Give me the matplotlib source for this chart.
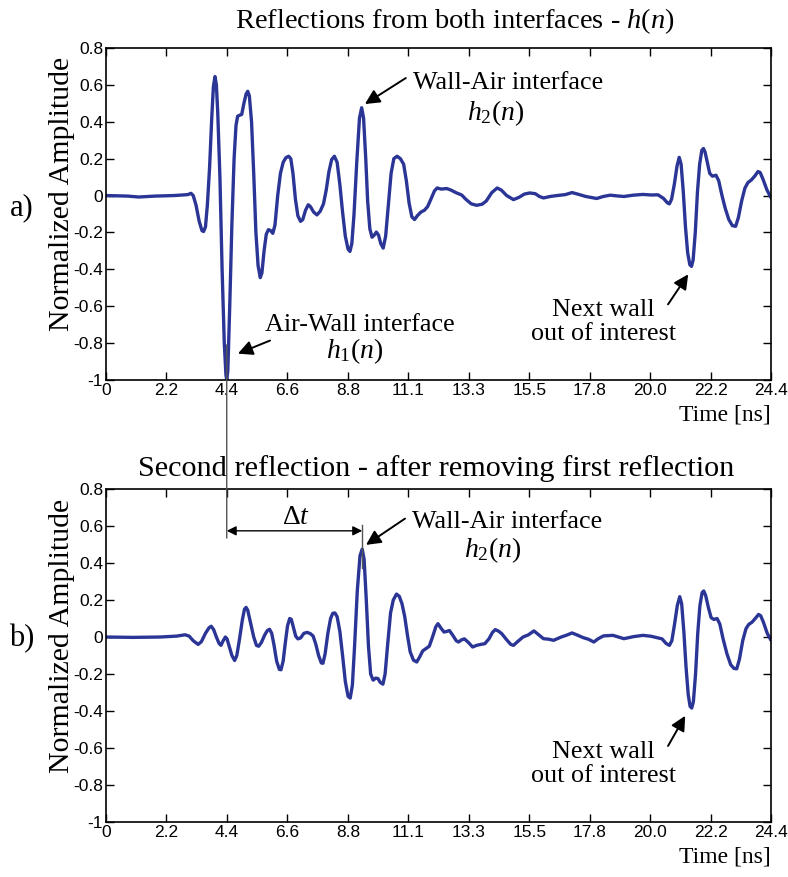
import numpy as np
import matplotlib
matplotlib.use('Agg')
import matplotlib.pyplot as plt
from matplotlib.patches import ConnectionPatch

plt.rcParams['mathtext.fontset'] = 'custom'
plt.rcParams['mathtext.rm'] = 'Liberation Serif'
plt.rcParams['mathtext.it'] = 'Liberation Serif:italic'

# time axis ticks (ns)
tick_labels = ['0', '2.2', '4.4', '6.6', '8.8', '11.1', '13.3', '15.5', '17.8', '20.0', '22.2', '24.4']
y_ticks = [-1, -0.8, -0.6, -0.4, -0.2, 0, 0.2, 0.4, 0.6, 0.8]
y_tick_labels = ['-1', '-0.8', '-0.6', '-0.4', '-0.2', '0', '0.2', '0.4', '0.6', '0.8']

# h(n): both reflections, (time ns, amplitude)
wave_a = [
    (0.0, 0.0), (0.8, -0.003), (1.2, -0.008), (1.8, -0.003), (2.5, 0.0), (3.0, 0.005),
    (3.12, 0.012), (3.2, 0.0), (3.3, -0.05), (3.42, -0.14), (3.52, -0.19), (3.58, -0.195),
    (3.65, -0.17), (3.72, -0.05), (3.8, 0.15), (3.88, 0.42), (3.94, 0.59), (4.0, 0.645),
    (4.05, 0.6), (4.1, 0.45), (4.18, 0.1), (4.26, -0.4), (4.34, -0.8), (4.4, -0.97),
    (4.43, -1.0), (4.47, -0.95), (4.54, -0.6), (4.62, -0.15), (4.7, 0.2), (4.77, 0.38),
    (4.83, 0.43), (4.9, 0.435), (4.98, 0.44), (5.06, 0.5), (5.14, 0.55), (5.2, 0.565),
    (5.26, 0.54), (5.34, 0.4), (5.42, 0.12), (5.5, -0.2), (5.58, -0.38), (5.66, -0.445),
    (5.72, -0.42), (5.8, -0.3), (5.88, -0.21), (5.96, -0.185), (6.04, -0.19), (6.12, -0.205),
    (6.2, -0.16), (6.3, 0.0), (6.4, 0.12), (6.5, 0.18), (6.6, 0.205), (6.7, 0.213),
    (6.78, 0.2), (6.86, 0.12), (6.95, -0.02), (7.04, -0.11), (7.14, -0.14), (7.22, -0.13),
    (7.32, -0.08), (7.42, -0.05), (7.5, -0.06), (7.62, -0.09), (7.74, -0.105), (7.86, -0.085),
    (7.98, -0.045), (8.08, 0.03), (8.18, 0.13), (8.28, 0.195), (8.38, 0.213), (8.48, 0.18),
    (8.58, 0.06), (8.68, -0.09), (8.78, -0.22), (8.88, -0.29), (8.95, -0.303), (9.02, -0.26),
    (9.1, -0.1), (9.2, 0.18), (9.3, 0.42), (9.38, 0.476), (9.45, 0.42), (9.53, 0.2),
    (9.6, -0.03), (9.68, -0.18), (9.76, -0.226), (9.84, -0.215), (9.92, -0.198), (10.0, -0.215),
    (10.08, -0.26), (10.17, -0.285), (10.26, -0.22), (10.36, -0.05), (10.46, 0.12), (10.56, 0.2),
    (10.68, 0.213), (10.8, 0.2), (10.92, 0.17), (11.02, 0.08), (11.12, -0.04), (11.22, -0.115),
    (11.32, -0.13), (11.42, -0.11), (11.55, -0.09), (11.68, -0.08), (11.8, -0.06), (11.92, -0.02),
    (12.05, 0.025), (12.15, 0.041), (12.3, 0.035), (12.5, 0.038), (12.65, 0.03), (12.85, 0.015),
    (13.05, 0.003), (13.2, -0.02), (13.4, -0.045), (13.6, -0.053), (13.8, -0.047), (13.95, -0.03),
    (14.15, 0.015), (14.35, 0.041), (14.5, 0.03), (14.7, 0.0), (14.95, -0.022), (15.15, -0.01),
    (15.35, 0.008), (15.55, 0.014), (15.75, 0.01), (15.9, -0.005), (16.05, -0.013), (16.3, -0.005),
    (16.55, 0.0), (16.85, 0.005), (17.1, 0.016), (17.3, 0.008), (17.6, -0.005), (18.0, -0.016),
    (18.25, -0.005), (18.5, 0.002), (18.75, -0.002), (19.0, -0.005), (19.35, 0.002), (19.7, 0.006),
    (20.0, 0.003), (20.25, 0.004), (20.45, -0.015), (20.6, -0.04), (20.67, -0.045), (20.75, -0.02),
    (20.85, 0.06), (20.95, 0.16), (21.03, 0.207), (21.1, 0.17), (21.18, 0.02), (21.26, -0.17),
    (21.34, -0.31), (21.42, -0.375), (21.48, -0.384), (21.54, -0.35), (21.62, -0.2), (21.7, 0.02),
    (21.78, 0.17), (21.86, 0.245), (21.92, 0.255), (21.98, 0.235), (22.06, 0.18), (22.15, 0.12),
    (22.25, 0.105), (22.38, 0.11), (22.48, 0.08), (22.6, 0.0), (22.72, -0.07), (22.85, -0.13),
    (22.98, -0.163), (23.1, -0.167), (23.2, -0.12), (23.32, -0.03), (23.44, 0.04), (23.55, 0.07),
    (23.68, 0.085), (23.8, 0.105), (23.92, 0.13), (24.0, 0.125), (24.1, 0.09), (24.25, 0.03),
    (24.4, -0.012),
]

# second reflection only (after removing the first one)
wave_b = [
    (0.0, 0.0), (1.0, -0.002), (2.0, 0.0), (2.6, 0.005), (2.9, 0.012), (3.05, 0.005),
    (3.2, -0.02), (3.38, -0.04), (3.5, -0.025), (3.65, 0.02), (3.78, 0.05), (3.86, 0.058),
    (3.95, 0.04), (4.05, 0.0), (4.15, -0.035), (4.22, -0.045), (4.3, -0.02), (4.38, 0.0),
    (4.44, -0.01), (4.52, -0.05), (4.62, -0.1), (4.72, -0.127), (4.8, -0.1), (4.9, -0.01),
    (5.0, 0.09), (5.08, 0.15), (5.14, 0.16), (5.2, 0.145), (5.3, 0.08), (5.42, 0.0),
    (5.52, -0.045), (5.6, -0.05), (5.7, -0.03), (5.82, 0.01), (5.92, 0.035), (6.0, 0.042),
    (6.08, 0.02), (6.16, -0.04), (6.26, -0.13), (6.36, -0.175), (6.42, -0.177), (6.5, -0.13),
    (6.58, -0.03), (6.66, 0.06), (6.74, 0.1), (6.8, 0.095), (6.88, 0.05), (6.96, 0.005),
    (7.04, -0.01), (7.14, -0.005), (7.26, 0.02), (7.38, 0.025), (7.5, 0.018), (7.6, 0.005),
    (7.7, -0.04), (7.8, -0.1), (7.9, -0.14), (7.96, -0.142), (8.04, -0.09), (8.14, 0.02),
    (8.24, 0.1), (8.32, 0.128), (8.4, 0.13), (8.48, 0.11), (8.58, 0.03), (8.68, -0.1),
    (8.78, -0.24), (8.88, -0.32), (8.96, -0.33), (9.04, -0.26), (9.12, -0.05), (9.22, 0.25),
    (9.32, 0.44), (9.4, 0.475), (9.47, 0.42), (9.55, 0.2), (9.63, -0.05), (9.71, -0.2),
    (9.8, -0.233), (9.9, -0.222), (9.98, -0.225), (10.06, -0.245), (10.16, -0.255), (10.24, -0.2),
    (10.34, -0.03), (10.44, 0.13), (10.54, 0.2), (10.66, 0.232), (10.76, 0.22), (10.86, 0.18),
    (10.96, 0.11), (11.06, 0.01), (11.16, -0.08), (11.28, -0.125), (11.4, -0.135), (11.5, -0.11),
    (11.62, -0.075), (11.76, -0.06), (11.86, -0.05), (11.98, 0.0), (12.1, 0.055), (12.18, 0.072),
    (12.28, 0.05), (12.4, 0.027), (12.5, 0.03), (12.6, 0.035), (12.72, 0.01), (12.85, -0.02),
    (12.93, -0.027), (13.05, -0.015), (13.15, -0.01), (13.3, -0.03), (13.45, -0.054), (13.6, -0.045),
    (13.75, -0.04), (13.9, -0.036), (14.05, -0.01), (14.18, 0.025), (14.28, 0.04), (14.4, 0.032),
    (14.52, 0.018), (14.7, -0.015), (14.85, -0.04), (14.95, -0.045), (15.1, -0.025), (15.3, 0.0),
    (15.5, 0.012), (15.7, 0.033), (15.85, 0.015), (16.05, -0.009), (16.25, -0.012), (16.42, -0.018),
    (16.7, 0.0), (16.9, 0.01), (17.1, 0.022), (17.3, 0.01), (17.5, -0.003), (17.7, -0.012),
    (17.9, -0.027), (18.05, -0.01), (18.25, 0.006), (18.6, 0.009), (18.8, 0.0), (19.0, -0.009),
    (19.35, 0.002), (19.7, 0.009), (20.0, 0.004), (20.2, -0.003), (20.4, -0.01), (20.55, -0.035),
    (20.67, -0.045), (20.76, -0.02), (20.86, 0.07), (20.96, 0.17), (21.05, 0.218), (21.12, 0.18),
    (21.2, 0.03), (21.28, -0.16), (21.36, -0.31), (21.43, -0.375), (21.49, -0.384), (21.55, -0.35),
    (21.63, -0.2), (21.71, 0.02), (21.79, 0.17), (21.87, 0.24), (21.93, 0.249), (22.0, 0.225),
    (22.1, 0.16), (22.2, 0.105), (22.3, 0.095), (22.42, 0.1), (22.52, 0.07), (22.64, -0.01),
    (22.78, -0.09), (22.92, -0.15), (23.04, -0.17), (23.14, -0.172), (23.24, -0.12), (23.36, -0.02),
    (23.48, 0.045), (23.58, 0.068), (23.7, 0.08), (23.82, 0.1), (23.94, 0.122), (24.02, 0.115),
    (24.12, 0.08), (24.26, 0.02), (24.4, -0.018),
]

t_max = 24.4
t_h1 = 4.43   # first reflection (Air-Wall)
t_h2 = 9.4    # second reflection (Wall-Air)

line_color = '#2b3596'
serif = ['Liberation Serif', 'DejaVu Serif']
narrow = ['Liberation Sans Narrow', 'Liberation Sans', 'DejaVu Sans']
note_size = 18.8

fig = plt.figure(figsize=(7.88, 8.77), dpi=100)
ax_a = fig.add_axes([0.1345, 0.5667, 0.844, 0.3786])
ax_b = fig.add_axes([0.1345, 0.0627, 0.844, 0.3797])

arrow = dict(arrowstyle='-|>', color='k', lw=1.4, mutation_scale=22, shrinkA=0, shrinkB=0)


def style_axis(ax):
    ax.set_xlim(0, t_max)
    ax.set_ylim(-1, 0.8)
    ax.set_xticks(np.linspace(0, t_max, len(tick_labels)))
    ax.set_xticklabels(tick_labels, family=narrow, fontsize=12.5)
    ax.set_yticks(y_ticks)
    ax.set_yticklabels(y_tick_labels, family=narrow, fontsize=12.5)
    ax.tick_params(direction='in', length=6, width=1, top=True, right=True, pad=2)
    for s in ax.spines.values():
        s.set_linewidth(1.2)
    ax.set_ylabel('Normalized Amplitude', family=serif, fontsize=21.5)
    ax.yaxis.set_label_coords(-0.046, 0.56)
    ax.text(1.0, -0.075, 'Time [ns]', transform=ax.transAxes, ha='right', va='top',
            family=serif, fontsize=17)


def draw_wave(ax, wave):
    t, h = np.array(wave).T
    ax.plot(t, h, color=line_color, lw=2.4, solid_joinstyle='round', solid_capstyle='round')


# ---- a) both interfaces
draw_wave(ax_a, wave_a)
style_axis(ax_a)
fig.text(0.577, 0.976, r'Reflections from both interfaces - $\mathit{h(n)}$', ha='center',
         va='center', family=serif, fontsize=20.5)
fig.text(0.012, 0.763, 'a)', ha='left', va='center', family=serif, fontsize=22)

ax_a.annotate('', xy=(9.5, 0.496), xytext=(11.0, 0.637), arrowprops=arrow)
ax_a.text(11.27, 0.61, 'Wall-Air interface', ha='left', va='center', family=serif,
          fontsize=note_size)
ax_a.text(14.28, 0.447, r'$\mathit{h_2(n)}$', ha='center', va='center', fontsize=20)

ax_a.annotate('', xy=(4.84, -0.857), xytext=(6.02, -0.786), arrowprops=arrow)
ax_a.text(5.83, -0.70, 'Air-Wall interface', ha='left', va='center', family=serif,
          fontsize=note_size)
ax_a.text(9.14, -0.846, r'$\mathit{h_1(n)}$', ha='center', va='center', fontsize=20)

ax_a.annotate('', xy=(21.36, -0.427), xytext=(20.62, -0.59), arrowprops=arrow)
ax_a.text(18.24, -0.685, 'Next wall\nout of interest', ha='center', va='center',
          family=serif, fontsize=note_size, linespacing=1.1)

# ---- b) after removing first reflection
draw_wave(ax_b, wave_b)
style_axis(ax_b)
fig.text(0.553, 0.466, 'Second reflection - after removing first reflection', ha='center',
         va='center', family=serif, fontsize=21.8)
fig.text(0.012, 0.272, 'b)', ha='left', va='center', family=serif, fontsize=22)

ax_b.annotate('', xy=(9.54, 0.498), xytext=(10.97, 0.64), arrowprops=arrow)
ax_b.text(11.23, 0.623, 'Wall-Air interface', ha='left', va='center', family=serif,
          fontsize=note_size)
ax_b.text(14.2, 0.471, r'$\mathit{h_2(n)}$', ha='center', va='center', fontsize=20)

ax_b.annotate('', xy=(21.25, -0.426), xytext=(20.62, -0.589), arrowprops=arrow)
ax_b.text(18.24, -0.685, 'Next wall\nout of interest', ha='center', va='center',
          family=serif, fontsize=note_size, linespacing=1.1)

# delta t between the two reflections
ax_b.annotate('', xy=(t_h1, 0.574), xytext=(t_h2, 0.574),
              arrowprops=dict(arrowstyle='<|-|>', color='k', lw=1.0, mutation_scale=14,
                              shrinkA=0, shrinkB=0))
ax_b.text((t_h1 + t_h2) / 2 + 0.05, 0.655, r'$\Delta t$', ha='center', va='center',
          fontsize=20)
ax_b.plot([t_h2, t_h2], [0.373, 0.607], color='#555555', lw=1.0)
con = ConnectionPatch(xyA=(t_h1, -0.81), coordsA=ax_a.transData,
                      xyB=(t_h1, 0.535), coordsB=ax_b.transData,
                      color='#555555', lw=1.0)
fig.add_artist(con)

fig.savefig('out.png', dpi=100)
